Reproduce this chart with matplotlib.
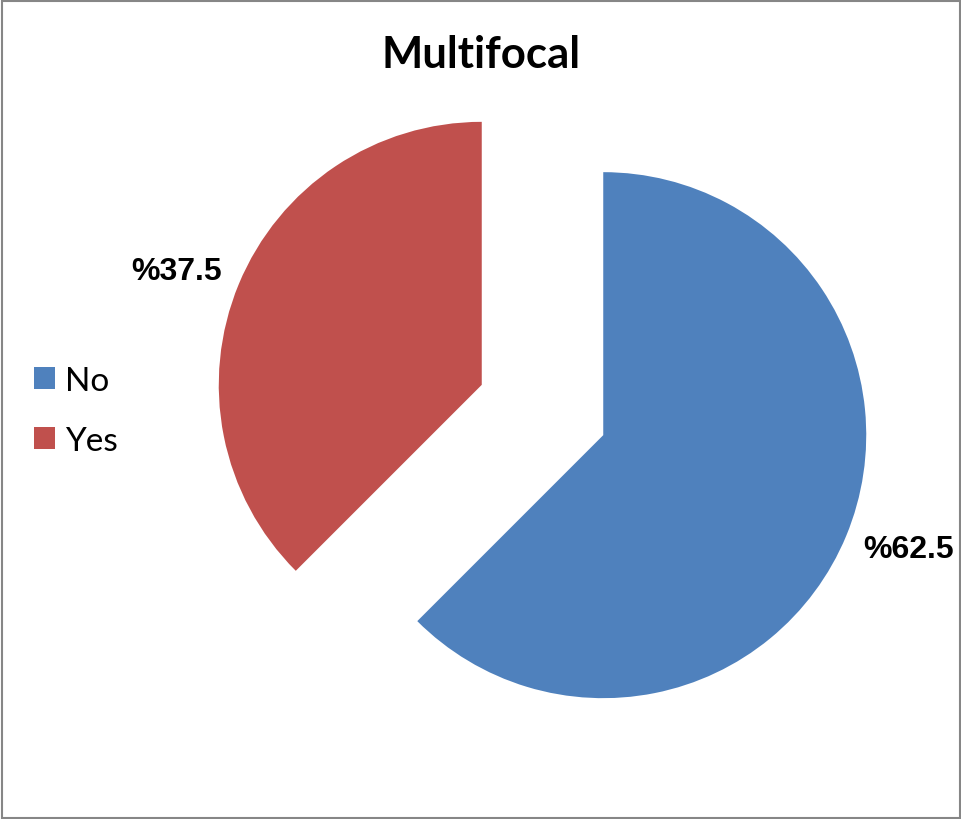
import matplotlib
matplotlib.use("Agg")
import matplotlib.pyplot as plt
from matplotlib.patches import Rectangle
import numpy as np

# Multifocal share
labels = ['No', 'Yes']
values = [62.5, 37.5]
colors = ['#4F81BD', '#C0504D']

W, H = 962, 820
fig = plt.figure(figsize=(W / 100, H / 100), dpi=100)
ax = fig.add_axes([0, 0, 1, 1])

wedges, texts, pcts = ax.pie(
    values, colors=colors, startangle=90, counterclock=False,
    explode=[0.25, 0.25], radius=1.0,
    autopct=lambda p: f'%{p:.1f}', pctdistance=1.24,
    wedgeprops=dict(linewidth=0),
)
# put the percentage labels just outside each slice, a touch nearer horizontal
for w, t in zip(wedges, pcts):
    theta = np.deg2rad((w.theta1 + w.theta2) / 2 + 2)
    x0, y0 = w.center
    t.set_position((x0 + 1.24 * np.cos(theta), y0 + 1.24 * np.sin(theta)))
    t.set_fontfamily('Liberation Sans')
    t.set_fontweight('bold')
    t.set_fontsize(23)
    t.set_color('black')

# pie centre at (542.5, 411) px, radius 263 px
r_px = 263.0
cx, cy = 542.5, 411.0
ax.set_xlim(-cx / r_px, (W - cx) / r_px)
ax.set_ylim(-(H - cy) / r_px, cy / r_px)
ax.set_aspect('auto')
ax.axis('off')

fig.text(481.5 / W, 1 - 68 / H, 'Multifocal', ha='center', va='baseline',
         fontsize=31.5, fontweight='bold', family='Lato')

fig.legend(wedges, labels, loc='center left',
           bbox_to_anchor=(34 / W, 1 - 412 / H),
           frameon=False, borderpad=0, borderaxespad=0,
           handlelength=0.62, handleheight=0.62, handletextpad=0.3,
           labelspacing=0.9, prop={'family': 'Lato', 'size': 24})

fig.patches.append(Rectangle((1.5 / W, 1.5 / H), 1 - 3 / W, 1 - 3 / H,
                             transform=fig.transFigure, fill=False,
                             edgecolor='#868686', linewidth=1.5))

fig.savefig('out.png', dpi=100)
